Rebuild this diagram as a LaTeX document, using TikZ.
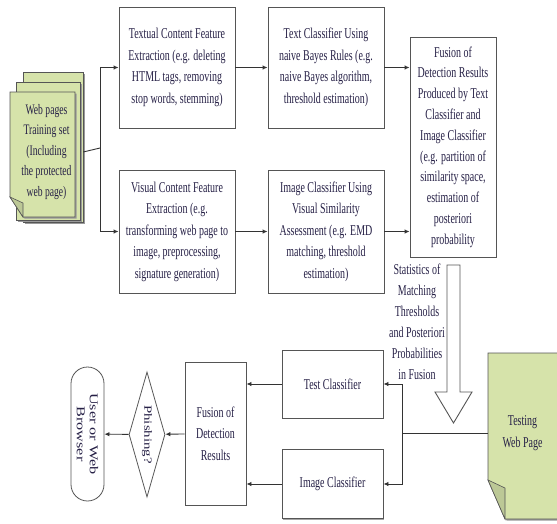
\documentclass[tikz,border=0pt]{standalone}
\usepackage{fontspec}
\setmainfont{Liberation Serif}[FakeStretch=0.665]
\newfontfamily\sidefont{Liberation Serif}[FakeStretch=1.35]
\usetikzlibrary{arrows.meta,shapes.geometric,shapes.misc,shadows}
\definecolor{pagegreen}{RGB}{214,227,170}
\definecolor{inkblue}{RGB}{38,32,70}
\definecolor{edgegray}{RGB}{85,85,85}

\begin{document}
\begin{tikzpicture}[x=1pt,y=-1pt,>={Latex[length=5pt,width=4.5pt]},
  every node/.style={font=\fontsize{15}{21.5}\selectfont,text=inkblue},
  box/.style={draw=edgegray,line width=0.9pt,fill=white,align=center,inner sep=2pt,
    drop shadow={shadow xshift=1.2pt,shadow yshift=-1.2pt,fill=gray!70,opacity=1}},
  page/.style={draw=edgegray,line width=0.8pt,fill=pagegreen,
    drop shadow={shadow xshift=1.5pt,shadow yshift=-1.5pt,fill=gray!80,opacity=1}},
  fold/.style={draw=edgegray,line width=0.6pt,fill=pagegreen!88!black},
  link/.style={line width=0.9pt,draw=black!80}]
\useasboundingbox (0,0) rectangle (557,523);

% training pages
\draw[page] (23,72) -- (83,72) -- (83,222) -- (23,222) -- cycle;
\draw[page] (16,82) -- (80,82) -- (80,220) -- (16,220) -- cycle;
\draw[page] (10,92) -- (75,92) -- (75,217) -- (23,217) -- (10,197) -- cycle;
\draw[fold] (10,197) -- (23,203) -- (23,217) -- cycle;
\node[align=center,inner sep=0pt,minimum width=73,minimum height=120,
  font=\fontsize{14.5}{20.5}\selectfont] (trainset) at (46.5,152)
  {Web pages\\Training set\\(Including\\the protected\\web page)};

% top row
\node[box,minimum width=116,minimum height=121] (txtfeat) at (177,67.5)
  {Textual Content Feature\\Extraction (e.g. deleting\\HTML tags, removing\\stop words, stemming)};
\node[box,minimum width=116,minimum height=121] (txtclf) at (326,67.5)
  {Text Classifier Using\\naive Bayes Rules (e.g.\\naive Bayes algorithm,\\threshold estimation)};
\node[box,minimum width=116,minimum height=123] (visfeat) at (177,231.5)
  {Visual Content Feature\\Extraction (e.g.\\transforming web page to\\image, preprocessing,\\signature generation)};
\node[box,minimum width=116,minimum height=123] (imgclf) at (326,231.5)
  {Image Classifier Using\\Visual Similarity\\Assessment (e.g. EMD\\matching, threshold\\estimation)};
\node[box,minimum width=86,minimum height=220,font=\fontsize{15}{20.8}\selectfont] (fusion) at (453,147)
  {Fusion of\\Detection Results\\Produced by Text\\Classifier and\\Image Classifier\\(e.g. partition of\\similarity space,\\estimation of\\posteriori\\probability};

\coordinate (split) at (100,148);
\draw[link] (trainset.east) -- (split);
\draw[link,->] (split) |- (txtfeat);
\draw[link,->] (split) |- (visfeat);
\draw[link,->] (txtfeat) -- (txtclf);
\draw[link,->] (visfeat) -- (imgclf);
\draw[link,->] (txtclf) -- (txtclf -| fusion.west);
\draw[link,->] (imgclf) -- (imgclf -| fusion.west);

% hollow arrow down
\node[align=center,font=\fontsize{15}{21}\selectfont] (stats) at (417,322)
  {Statistics of\\Matching\\Thresholds\\and Posteriori\\Probabilities\\in Fusion};
\draw[edgegray,line width=0.9pt,fill=white] (447,265) -- (460,265) -- (460,392)
  -- (472,392) -- (453.5,423) -- (435,392) -- (447,392) -- cycle;

% testing page
\draw[page] (488,353) -- (560,353) -- (560,519) -- (505,519) -- (488,480) -- cycle;
\draw[fold] (488,480) -- (505,488) -- (505,519) -- cycle;
\node[align=center,inner sep=0pt,minimum width=69] (testpage) at (522.5,433)
  {Testing\\Web Page};

% bottom row
\node[box,minimum width=101,minimum height=68] (testclf) at (332.5,384) {Test Classifier};
\node[box,minimum width=101,minimum height=69] (imageclf) at (332.5,484) {Image Classifier};
\node[box,minimum width=61,minimum height=143] (fusres) at (215.5,433.5)
  {Fusion of\\Detection\\Results};
\node[draw=edgegray,fill=white,line width=0.8pt,diamond,aspect=3.5,inner sep=0pt,
  minimum width=125,minimum height=36,rotate=-90,
  font=\sidefont\fontsize{11}{12}\selectfont] (phish) at (147,434.5) {Phishing?};
\node[draw=edgegray,fill=white,line width=0.8pt,rounded rectangle,inner sep=1pt,
  minimum width=136,minimum height=33,rotate=-90,align=center,
  font=\sidefont\fontsize{12}{13}\selectfont] (browser) at (87.5,434) {User or Web\\Browser};

\coordinate (join) at (402,433);
\draw[link] (testpage.west) -- (join);
\draw[link,->] (join) |- (testclf);
\draw[link,->] (join) |- (imageclf);
\draw[link,->] (testclf) -- (testclf -| fusres.east);
\draw[link,->] (imageclf) -- (imageclf -| fusres.east);
\draw[link,->] (fusres) -- (phish);
\draw[link,->] (phish) -- (browser);
\end{tikzpicture}
\end{document}
